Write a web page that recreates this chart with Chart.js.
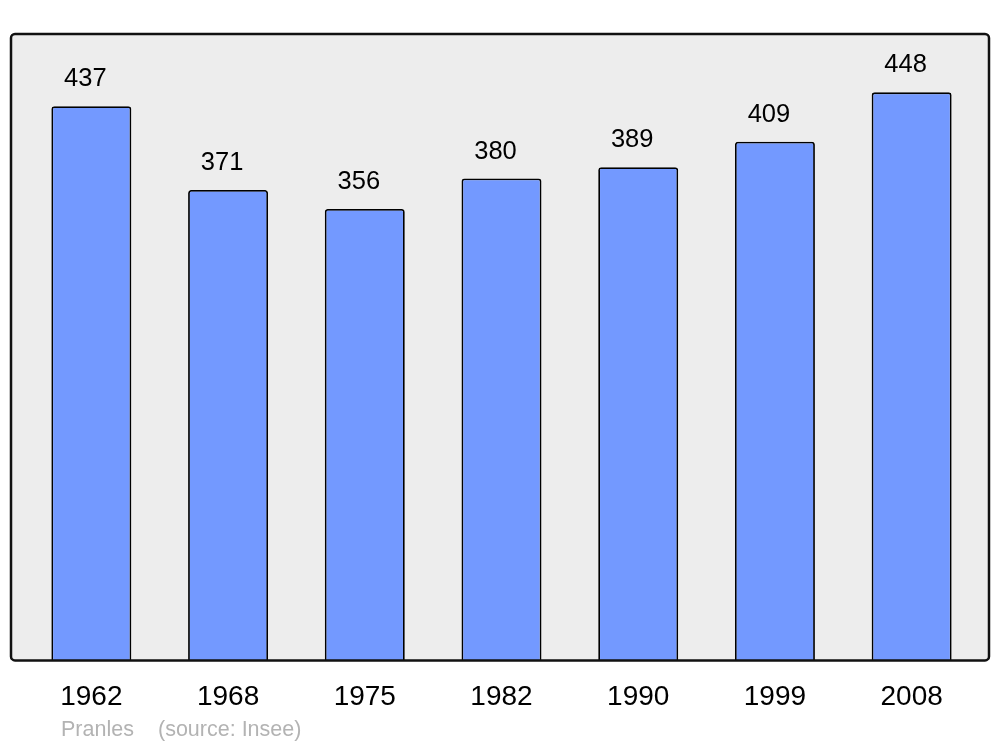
<!DOCTYPE html>
<html>
<head>
<meta charset="utf-8">
<script src="https://cdn.jsdelivr.net/npm/chart.js@4"></script>
<style>
  body { margin: 0; background: #fff; }
</style>
</head>
<body>
<canvas id="popChart" width="1000" height="747"></canvas>
<script>
const years = ['1962', '1968', '1975', '1982', '1990', '1999', '2008'];
const population = [437, 371, 356, 380, 389, 409, 448];
const commune = 'Pranles';
const source = '(source: Insee)';

// grey frame behind the bars
const framePlugin = {
    id: 'frame',
    beforeDatasetsDraw(chart) {
        const { ctx, chartArea } = chart;
        const x0 = chartArea.left - 12, x1 = chartArea.right + 9;
        ctx.save();
        ctx.beginPath();
        ctx.roundRect(x0, chartArea.top, x1 - x0, chartArea.bottom - chartArea.top, 4);
        ctx.fillStyle = '#ededed';
        ctx.fill();
        ctx.restore();
    },
    afterDatasetsDraw(chart) {
        const { ctx, chartArea } = chart;
        const x0 = chartArea.left - 12, x1 = chartArea.right + 9;
        ctx.save();
        ctx.beginPath();
        ctx.roundRect(x0, chartArea.top, x1 - x0, chartArea.bottom - chartArea.top, 4);
        ctx.lineWidth = 2.5;
        ctx.strokeStyle = '#111';
        ctx.stroke();

        // values above bars
        const meta = chart.getDatasetMeta(0);
        ctx.fillStyle = '#000';
        ctx.font = '25.5px "Liberation Sans", Arial, sans-serif';
        ctx.textAlign = 'center';
        ctx.textBaseline = 'middle';
        meta.data.forEach((bar, i) => {
            ctx.fillText(String(population[i]), bar.x - 6, bar.y - 27);
        });

        // footer
        ctx.fillStyle = '#b3b3b3';
        ctx.font = '21.5px "Liberation Sans", Arial, sans-serif';
        ctx.textAlign = 'left';
        ctx.fillText(commune, 61, 730);
        ctx.fillText(source, 158, 730);
        ctx.restore();
    }
};

new Chart(document.getElementById('popChart'), {
    type: 'bar',
    data: {
        labels: years,
        datasets: [{
            data: population,
            backgroundColor: '#7399ff',
            borderColor: '#000',
            borderWidth: 1.8,
            borderRadius: { topLeft: 3, topRight: 3 },
            borderSkipped: 'bottom',
            categoryPercentage: 1,
            barPercentage: 0.585
        }]
    },
    options: {
        responsive: false,
        animation: false,
        layout: { padding: { left: 23, right: 20, top: 34, bottom: 13 } },
        plugins: {
            legend: { display: false },
            tooltip: { enabled: false }
        },
        scales: {
            x: {
                grid: { display: false, drawTicks: false },
                border: { display: false },
                ticks: {
                    color: '#000',
                    padding: 20,
                    font: { size: 28, family: '"Liberation Sans", Arial, sans-serif' }
                }
            },
            y: {
                display: false,
                min: 0,
                max: 494
            }
        }
    },
    plugins: [framePlugin]
});
</script>
</body>
</html>
